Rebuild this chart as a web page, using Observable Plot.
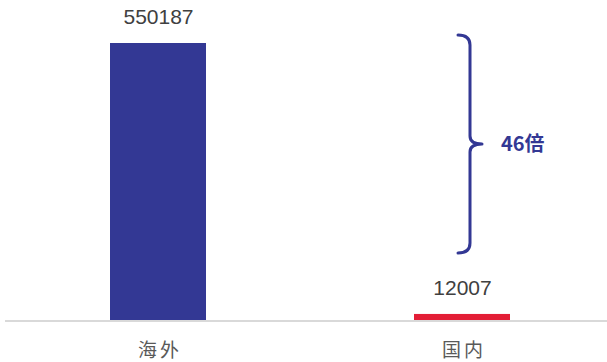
<!DOCTYPE html>
<html>
<head>
<meta charset="utf-8">
<script src="https://cdn.jsdelivr.net/npm/d3@7"></script>
<script src="https://cdn.jsdelivr.net/npm/@observablehq/plot@0.6"></script>
<style>
  html, body { margin: 0; padding: 0; background: #fff; }
  #chart svg { display: block; overflow: visible; }
  .cat text { letter-spacing: 3px; }
</style>
</head>
<body>
<div id="chart"></div>
<script>
// Data
const categories = ["海外", "国内"];
const values = [550187, 12007];
const barColors = ["#333894", "#e31e36"];
const ratioLabel = "46倍";
// brace extent (data units on y) next to the 国内 bar
const braceExtent = [566000, 133000];

const data = categories.map((c, i) => ({category: c, value: values[i], color: barColors[i]}));

function braceMark(index, scales, values_, dimensions) {
  const x = scales.x, y = scales.y;
  const bw = x.bandwidth ? x.bandwidth() : 96;
  const cx = x("国内") + bw / 2;
  const y0 = y(braceExtent[0]), y1 = y(braceExtent[1]);
  const ym = (y0 + y1) / 2;
  const xl = cx - 4, xv = cx + 8, xt = cx + 20;
  const d = `M${xl},${y0} Q${xv},${y0} ${xv},${y0 + 10} L${xv},${ym - 8} Q${xv},${ym} ${xt},${ym} Q${xv},${ym} ${xv},${ym + 8} L${xv},${y1 - 10} Q${xv},${y1} ${xl},${y1}`;
  const g = d3.create("svg:g");
  g.append("path").attr("d", d).attr("fill", "none").attr("stroke", "#333894")
    .attr("stroke-width", 3).attr("stroke-linecap", "round").attr("stroke-linejoin", "round");
  g.append("text").attr("x", xt + 19).attr("y", ym).attr("dy", "0.35em")
    .attr("text-anchor", "start")
    .attr("fill", "#333894").attr("font-family", "'Noto Sans CJK SC', sans-serif")
    .attr("font-weight", 700).attr("font-size", 20).text(ratioLabel);
  return g.node();
}

const chart = Plot.plot({
  width: 607,
  height: 362,
  marginLeft: 5,
  marginRight: 0,
  marginTop: 43,
  marginBottom: 42,
  style: {background: "#fff"},
  x: {domain: categories, range: [5, 615], paddingInner: 0.684, paddingOuter: 0.345, axis: null},
  y: {domain: [0, 550187], range: [320, 43], axis: null},
  marks: [
    Plot.barY(data, {x: "category", y: "value", fill: "color"}),
    Plot.ruleY([0], {stroke: "#d9d9d9", strokeWidth: 2, dy: 0.5}),
    Plot.text(data, {x: "category", y: "value", text: d => String(d.value), dy: -26,
      fontSize: 21, fontFamily: "'Liberation Sans', Arial, sans-serif", fill: "#404040"}),
    Plot.text(data, {x: "category", y: 0, text: "category", dy: 30, dx: 1.5,
      fontSize: 19, fontFamily: "'Noto Sans CJK SC', sans-serif", fill: "#595959", className: "cat"}),
    braceMark
  ]
});
document.getElementById("chart").append(chart);
</script>
</body>
</html>
